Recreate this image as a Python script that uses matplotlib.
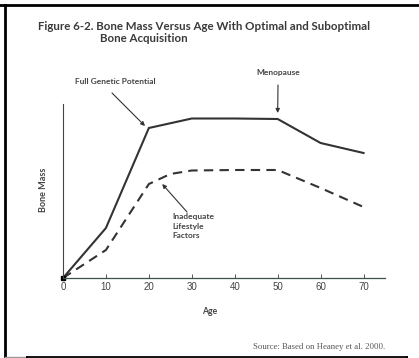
import matplotlib
matplotlib.use("Agg")
import matplotlib.pyplot as plt
from matplotlib.lines import Line2D

# data (bone mass, arbitrary units)
age_optimal = [0, 10, 20, 30, 40, 50, 60, 70]
mass_optimal = [0, 50, 150, 159.5, 159.5, 159, 135, 125]
age_suboptimal = [0, 10, 20, 25, 30, 40, 50, 60, 70]
mass_suboptimal = [0, 28, 94, 104, 107.5, 108, 108, 90, 71]
xticks = [0, 10, 20, 30, 40, 50, 60, 70]

W, H = 419, 358


def fx(x):
    return x / W


def fy(y):
    return 1 - y / H


fig = plt.figure(figsize=(W / 100, H / 100), dpi=100)
ax = fig.add_axes([fx(63), fy(278), fx(385) - fx(63), fy(104) - fy(278)])

ink = "#333333"
ax.plot(age_optimal, mass_optimal, color=ink, lw=1.5, solid_joinstyle="miter")
ax.plot(age_suboptimal, mass_suboptimal, color=ink, lw=1.5, linestyle=(0, (4.5, 3)))
ax.plot([0], [0], marker="s", ms=3, color="black", clip_on=False)

ax.set_xlim(0, 75)
ax.set_ylim(0, 174)
ax.set_xticks(xticks)
ax.set_xticklabels([str(t) for t in xticks], fontsize=7, family="Liberation Sans", color="#444444")
ax.set_yticks([])
ax.tick_params(axis="x", direction="in", length=3, width=0.7, color="#555555", pad=3)
for side in ["top", "right"]:
    ax.spines[side].set_visible(False)
ax.spines["left"].set_color("#444444")
ax.spines["bottom"].set_color("#3d4f4f")
ax.spines["left"].set_linewidth(0.8)
ax.spines["bottom"].set_linewidth(0.9)

lab = dict(family="Lato", weight="bold", color="#444444")
fig.text(fx(210), fy(312), "Age", fontsize=6.2, ha="center", va="center", **lab)
fig.text(fx(43), fy(190), "Bone Mass", fontsize=6.5, rotation=90, ha="center", va="center", **lab)

fig.text(fx(38), fy(26), "Figure 6-2. Bone Mass Versus Age With Optimal and Suboptimal",
         fontsize=8.25, ha="left", va="center", family="Lato", weight="bold", color="#3a3a3a")
fig.text(fx(100), fy(38), "Bone Acquisition",
         fontsize=8.25, ha="left", va="center", family="Lato", weight="bold", color="#3a3a3a")

arrow = dict(arrowstyle="-|>", lw=0.8, color=ink, mutation_scale=6, shrinkA=0, shrinkB=0)
ax.annotate("", xy=(19.1, 152), xytext=(fx(112), fy(93)), textcoords="figure fraction",
            arrowprops=arrow)
ax.annotate("", xy=(50, 165), xytext=(fx(278), fy(85)), textcoords="figure fraction",
            arrowprops=arrow)
ax.annotate("", xy=(23.1, 94), xytext=(fx(187), fy(212)), textcoords="figure fraction",
            arrowprops=arrow)

fig.text(fx(115), fy(82), "Full Genetic Potential", fontsize=6, ha="center", va="center", **lab)
fig.text(fx(278), fy(72), "Menopause", fontsize=6, ha="center", va="center", **lab)
fig.text(fx(172), fy(213), "Inadequate\nLifestyle\nFactors", fontsize=6, ha="left", va="top",
         linespacing=1.45, **lab)

fig.text(fx(385), fy(347), "Source: Based on Heaney et al. 2000.", fontsize=6.3,
         family="Liberation Serif", ha="right", va="center", color="#555555")

# page frame
fig.add_artist(Line2D([0, 1], [fy(5), fy(5)], color="black", lw=2))
fig.add_artist(Line2D([fx(5), fx(5)], [fy(5), 0], color="black", lw=2))
fig.add_artist(Line2D([fx(5), fx(27)], [fy(357), fy(357)], color="#999999", lw=1))
fig.add_artist(Line2D([fx(27), fx(407)], [fy(357), fy(357)], color="black", lw=1.3))
fig.add_artist(Line2D([fx(27), fx(27)], [fy(357), 0], color="black", lw=1.3))
fig.add_artist(Line2D([fx(407), fx(407)], [fy(357), 0], color="black", lw=1.3))

fig.savefig("out.png", dpi=100)
